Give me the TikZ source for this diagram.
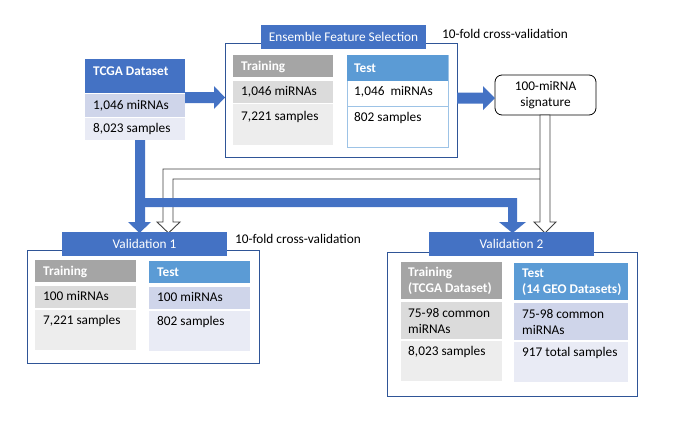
\documentclass[tikz,border=0pt]{standalone}
\usepackage{fontspec}
\setmainfont{Carlito}
\usetikzlibrary{fit}
\definecolor{hblue}{HTML}{4472C4}
\definecolor{eborder}{HTML}{2F5597}
\definecolor{ghead}{HTML}{A5A5A5}
\definecolor{grow1}{HTML}{DBDBDB}
\definecolor{grow2}{HTML}{EDEDED}
\definecolor{thead}{HTML}{5B9BD5}
\definecolor{brow1}{HTML}{CFD5EA}
\definecolor{brow2}{HTML}{E9EBF5}
\definecolor{lborder}{HTML}{9DC3E6}
\definecolor{hollow}{HTML}{404040}
\begin{document}
\begin{tikzpicture}[x=1pt,y=-1pt,
  font=\fontsize{13.3}{15.5}\selectfont,
  cell/.style={inner sep=0pt, outer sep=0pt},
  frame/.style={cell, draw=eborder, line width=0.9pt},
  title/.style={cell, fill=hblue, text=white},
  txt/.style={anchor=west, inner sep=0pt, align=left},
  wtxt/.style={txt, text=white, font=\fontsize{13.3}{15.5}\selectfont\bfseries},
  bluearrow/.style={fill=hblue, draw=none},
  hollowarrow/.style={fill=white, draw=hollow, line width=0.9pt, line join=miter}
]
\useasboundingbox (0,0) rectangle (689,432);

% ---------------- TCGA dataset
\node[cell, fill=hblue, fit={(85,59)(185,93)}] (tcgah) {};
\node[cell, fill=brow1, fit={(85,94)(185,117)}] (tcga1) {};
\node[cell, fill=brow2, fit={(85,118)(185,140)}] (tcga2) {};
\node[wtxt] (tcgaht) at (93,71) {TCGA Dataset};
\node[txt] (tcga1t) at (93,106) {1,046 miRNAs};
\node[txt] (tcga2t) at (93,129) {8,023 samples};

% ---------------- Blue arrows (drawn early so boxes overlap edges)
\fill[hollowarrow] (545,169) -- (163,169) -- (163,222) -- (157,222) -- (168.5,233)
  -- (180,222) -- (173,222) -- (173,179) -- (545,179) -- cycle;
\fill[bluearrow] (140,198) -- (517,198) -- (517,222) -- (526,222) -- (512.5,233)
  -- (499,222) -- (508,222) -- (508,207) -- (140,207) -- cycle;
\fill[bluearrow] (tcga2.south -| 135,0) -- (135,222) -- (128,222) -- (139.5,233)
  -- (151,222) -- (145,222) -- (tcga2.south -| 145,0) -- cycle;

% ---------------- Ensemble Feature Selection
\node[frame, fit={(225,43)(457,157)}] (ens) {};
\node[title, fit={(261,25)(426,49)}] (ensh) {};
\node[text=white] (enst) at (ensh.center) {Ensemble Feature Selection};
\node[txt] (cv1) at (442,34) {10-fold cross-validation};

\node[cell, fill=ghead, fit={(233,55)(333,77)}] (etrh) {};
\node[cell, fill=grow1, fit={(233,81)(333,103)}] (etr1) {};
\node[cell, fill=grow2, fit={(233,104)(333,145)}] (etr2) {};
\node[wtxt] at (241,67) {Training};
\node[txt] at (241,92) {1,046 miRNAs};
\node[txt] at (241,117) {7,221 samples};

\node[cell, fill=white, draw=lborder, line width=0.7pt, fit={(347,55)(448,147)}] (ete) {};
\draw[lborder, line width=0.7pt] (347,106) -- (448,106);
\node[cell, fill=thead, fit={(347,55)(448,81)}] (eteh) {};
\node[wtxt] at (354,68) {Test};
\node[txt] at (354,92) {1,046\ \ miRNAs};
\node[txt] at (354,118) {802 samples};

% arrows TCGA -> Ensemble -> signature
\fill[bluearrow] (tcgah.east |- 0,92) -- (214,92) -- (214,86) -- (ens.west |- 0,97.5)
  -- (214,109) -- (214,103) -- (tcgah.east |- 0,103) -- cycle;

% ---------------- signature
\node[cell, draw=black, line width=0.8pt, rounded corners=7pt, fill=white,
      fit={(495,75)(596,115)}] (sig) {};
\node[align=center, inner sep=0pt] (sigt) at (sig.center) {100-miRNA\\signature};

\fill[bluearrow] (ens.east |- 0,92.5) -- (483,92.5) -- (483,86) -- (sig.west |- 0,98)
  -- (483,110) -- (483,103.5) -- (ens.east |- 0,103.5) -- cycle;

% vertical hollow arrow to Validation 2
\fill[hollowarrow] (sig.south -| 540,0) -- (540,222) -- (534,222) -- (545,233)
  -- (556,222) -- (550,222) -- (sig.south -| 550,0) -- cycle;

% ---------------- Validation 1
\node[frame, fit={(27,250)(259,363)}] (v1) {};
\node[title, fit={(62,232)(227,256)}] (v1h) {};
\node[text=white] (v1t) at (v1h.center) {Validation 1};
\node[txt] (cv2) at (235,239) {10-fold cross-validation};

\node[cell, fill=ghead, fit={(35,260)(136,282)}] (v1trh) {};
\node[cell, fill=grow1, fit={(35,286)(136,308)}] (v1tr1) {};
\node[cell, fill=grow2, fit={(35,310)(136,350)}] (v1tr2) {};
\node[wtxt] at (43,272) {Training};
\node[txt] at (43,296) {100 miRNAs};
\node[txt] at (43,321) {7,221 samples};

\node[cell, fill=thead, fit={(149,261)(250,283)}] (v1teh) {};
\node[cell, fill=brow1, fit={(149,287)(250,309)}] (v1te1) {};
\node[cell, fill=brow2, fit={(149,311)(250,351)}] (v1te2) {};
\node[wtxt] at (157,272) {Test};
\node[txt] at (157,297) {100 miRNAs};
\node[txt] at (157,322) {802 samples};

% ---------------- Validation 2
\node[frame, fit={(387,252)(637,396)}] (v2) {};
\node[title, fit={(429,232)(594,256)}] (v2h) {};
\node[text=white] (v2t) at (v2h.center) {Validation 2};

\node[cell, fill=ghead, fit={(401,262)(502,299)}] (v2trh) {};
\node[cell, fill=grow1, fit={(401,302)(502,339)}] (v2tr1) {};
\node[cell, fill=grow2, fit={(401,341)(502,381)}] (v2tr2) {};
\node[wtxt] at (408,281) {Training\\(TCGA Dataset)};
\node[txt] at (408,321) {75-98 common\\miRNAs};
\node[txt] at (408,352) {8,023 samples};

\node[cell, fill=thead, fit={(514,263)(628,300)}] (v2teh) {};
\node[cell, fill=brow1, fit={(514,303)(628,340)}] (v2te1) {};
\node[cell, fill=brow2, fit={(514,342)(628,382)}] (v2te2) {};
\node[wtxt] at (522,282) {Test\\(14 GEO Datasets)};
\node[txt] at (522,322) {75-98 common\\miRNAs};
\node[txt] at (522,353) {917 total samples};
\end{tikzpicture}
\end{document}
